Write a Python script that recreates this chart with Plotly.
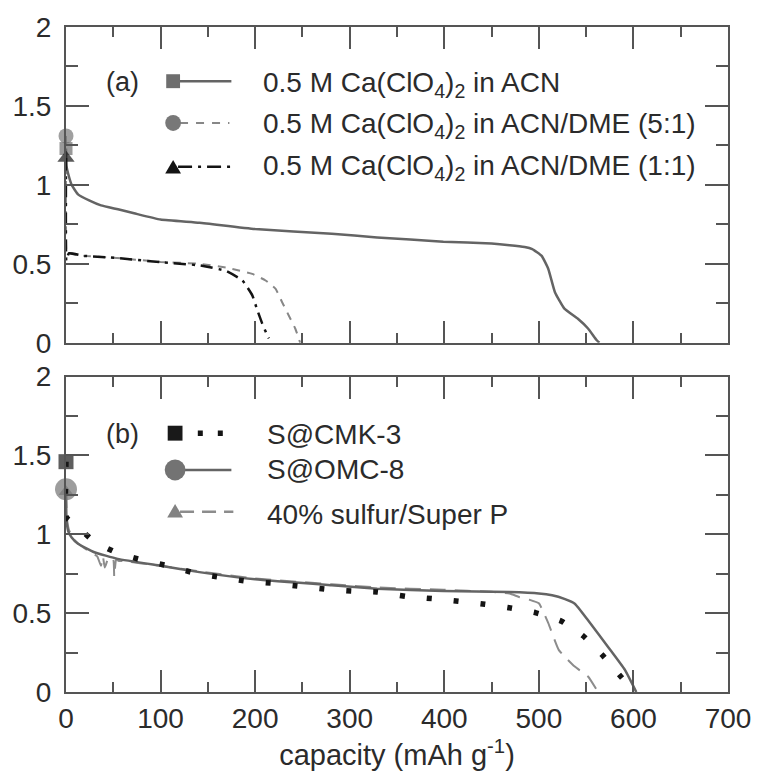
import plotly.graph_objects as go

# ---------------- data ----------------
# panel (a)
acn_x = [0, 0.5, 2.3, 6, 12.7, 25, 37, 55, 72, 100, 141, 200, 281, 329, 399, 450, 469, 485, 493, 503, 510, 517, 527, 541, 552, 561, 564]
acn_y = [1.23, 1.12, 1.07, 1.0, 0.94, 0.9, 0.87, 0.845, 0.82, 0.78, 0.76, 0.72, 0.69, 0.667, 0.64, 0.628, 0.618, 0.606, 0.593, 0.55, 0.467, 0.32, 0.216, 0.153, 0.09, 0.017, 0]

dme51_x = [0, 0.2, 1, 3, 19, 47, 100, 141, 169, 176, 197, 211, 221.5, 228.4, 235.4, 242.4, 247.6]
dme51_y = [1.31, 0.6, 0.56, 0.566, 0.55, 0.54, 0.512, 0.50, 0.476, 0.467, 0.436, 0.394, 0.342, 0.258, 0.174, 0.09, 0.0]

dme11_x = [0, 0.3, 1, 3, 19, 47, 100, 141, 169, 186.6, 197, 202.3, 207.5, 212.7, 214.5]
dme11_y = [1.17, 0.52, 0.53, 0.566, 0.55, 0.54, 0.51, 0.49, 0.455, 0.394, 0.30, 0.206, 0.121, 0.048, 0.027]

# panel (b)
omc_x = [0, 0.5, 2.3, 6, 12.7, 30, 54.6, 100, 141, 200, 281, 329, 399, 469, 500, 514, 527, 538, 552, 573, 591, 603]
omc_y = [1.285, 1.1, 1.02, 0.98, 0.94, 0.886, 0.844, 0.80, 0.76, 0.714, 0.676, 0.655, 0.64, 0.634, 0.625, 0.613, 0.59, 0.56, 0.455, 0.287, 0.14, 0]

cmk_x = [0, 0.5, 9, 30, 54.6, 82, 108, 136, 162, 190, 218, 247, 276, 303, 329, 359, 387, 415, 443, 470, 497, 524, 547, 567, 585, 599]
cmk_y = [1.46, 1.106, 1.065, 0.953, 0.88, 0.834, 0.80, 0.754, 0.728, 0.703, 0.69, 0.67, 0.651, 0.64, 0.634, 0.607, 0.592, 0.575, 0.556, 0.533, 0.502, 0.449, 0.355, 0.235, 0.109, 0.015]

superp_x = [0, 1, 3, 8, 15, 25, 33, 37, 39, 41, 45, 50, 51, 53, 56, 62, 80, 100, 141, 200, 281, 329, 399, 450, 469, 479, 490, 500, 510, 521, 538, 552, 561]
superp_y = [1.27, 1.1, 1.03, 0.97, 0.93, 0.89, 0.86, 0.8, 0.86, 0.79, 0.85, 0.84, 0.73, 0.84, 0.83, 0.83, 0.815, 0.80, 0.765, 0.72, 0.683, 0.663, 0.648, 0.635, 0.624, 0.602, 0.585, 0.562, 0.436, 0.267, 0.161, 0.098, 0.015]

x_ticks = [0, 100, 200, 300, 400, 500, 600, 700]
y_ticks = [0, 0.5, 1, 1.5, 2]
y_tick_text = ["0", "0.5", "1", "1.5", "2"]

labels_a = ["0.5 M Ca(ClO<sub>4</sub>)<sub>2</sub> in ACN",
            "0.5 M Ca(ClO<sub>4</sub>)<sub>2</sub> in ACN/DME (5:1)",
            "0.5 M Ca(ClO<sub>4</sub>)<sub>2</sub> in ACN/DME (1:1)"]
labels_b = ["S@CMK-3", "S@OMC-8", "40% sulfur/Super P"]

# ---------------- styling ----------------
FONT = "Liberation Sans, Arial, Helvetica, sans-serif"
AX = "#555555"
TXT = "#2b2b2b"
W, H = 763, 778
L_PX, R_PX, T_PX, B_PX = 64.5, 735.0, 23.5, 692.3


def first_marker(n, size):
    return [size] + [0] * (n - 1)


fig = go.Figure()


def add_series(x, y, xa, ya, color, dash, width, symbol, msize, mcolor, name):
    fig.add_trace(go.Scatter(
        x=x, y=y, xaxis=xa, yaxis=ya, mode="lines+markers", name=name,
        line=dict(color=color, dash=dash, width=width, shape="spline", smoothing=0.4),
        marker=dict(symbol=symbol, size=first_marker(len(x), msize), color=mcolor,
                    line=dict(width=0)),
        cliponaxis=False, showlegend=False, hoverinfo="skip"))


# panel (a) — draw so that markers stack like the reference
add_series(dme51_x, dme51_y, "x", "y", "rgb(135,135,135)", "8px,7px", 2, "circle", 15, "rgb(120,120,120)", labels_a[1])
add_series(acn_x, acn_y, "x", "y", "rgb(100,100,100)", "solid", 2.5, "square", 13, "rgb(110,110,110)", labels_a[0])
add_series(dme11_x, dme11_y, "x", "y", "rgb(20,20,20)", "12px,6px,3px,6px", 2.5, "triangle-up", 15, "rgb(20,20,20)", labels_a[2])

# panel (b)
add_series(superp_x, superp_y, "x2", "y2", "rgb(140,140,140)", "16px,9px", 2, "triangle-up", 13, "rgb(130,130,130)", labels_b[2])
add_series(omc_x, omc_y, "x2", "y2", "rgb(100,100,100)", "solid", 2.5, "circle", 22, "rgb(115,115,115)", labels_b[1])
add_series(cmk_x, cmk_y, "x2", "y2", "rgb(20,20,20)", "5px,22px", 5.5, "square", 15, "rgb(25,25,25)", labels_b[0])

# ---------------- axes ----------------
top_dom = [(B_PX - 341.0) / (B_PX - T_PX), 1.0]
bot_dom = [0.0, (B_PX - 375.0) / (B_PX - T_PX)]

xcommon = dict(range=[0, 700], tickvals=x_ticks, ticks="inside", ticklen=22, tickwidth=2,
               tickcolor=AX, showline=True, linecolor=AX, linewidth=2, mirror="ticks",
               showgrid=False, zeroline=False,
               minor=dict(dtick=50, tick0=0, ticks="inside", ticklen=10, tickwidth=2, tickcolor=AX, showgrid=False),
               tickfont=dict(family=FONT, size=28, color=TXT))
ycommon = dict(range=[0, 2], tickvals=y_ticks, ticktext=y_tick_text, ticks="inside", ticklen=23, tickwidth=2,
               tickcolor=AX, showline=True, linecolor=AX, linewidth=2, mirror="ticks",
               showgrid=False, zeroline=False,
               minor=dict(dtick=0.25, tick0=0, ticks="inside", ticklen=12, tickwidth=2, tickcolor=AX, showgrid=False),
               tickfont=dict(family=FONT, size=28, color=TXT), ticklabelstandoff=7)

fig.update_layout(
    width=W, height=H,
    margin=dict(l=L_PX, r=W - R_PX, t=T_PX, b=H - B_PX, pad=0),
    paper_bgcolor="white", plot_bgcolor="white",
    font=dict(family=FONT, color=TXT),
    showlegend=False,
    xaxis=dict(xcommon, anchor="y", showticklabels=False, domain=[0, 1]),
    yaxis=dict(ycommon, anchor="x", domain=top_dom),
    xaxis2=dict(xcommon, anchor="y2", domain=[0, 1],
                title=dict(text="capacity (mAh g<sup>-1</sup>)", font=dict(family=FONT, size=29, color=TXT), standoff=12)),
    yaxis2=dict(ycommon, anchor="x2", domain=bot_dom),
)


# ---------------- hand-drawn legends (paper coords from pixels) ----------------
def px(xp):
    return (xp - L_PX) / (R_PX - L_PX)


def py(yp):
    return (B_PX - yp) / (B_PX - T_PX)


shapes = []
annotations = []


def leg_line(x0, x1, y, color, dash, width):
    shapes.append(dict(type="line", xref="paper", yref="paper", x0=px(x0), x1=px(x1), y0=py(y), y1=py(y),
                       line=dict(color=color, dash=dash, width=width)))


def leg_square(cx, cy, s, color):
    shapes.append(dict(type="rect", xref="paper", yref="paper", x0=px(cx - s / 2), x1=px(cx + s / 2),
                       y0=py(cy + s / 2), y1=py(cy - s / 2), fillcolor=color, line=dict(width=0)))


def leg_circle(cx, cy, d, color):
    shapes.append(dict(type="circle", xref="paper", yref="paper", x0=px(cx - d / 2), x1=px(cx + d / 2),
                       y0=py(cy + d / 2), y1=py(cy - d / 2), fillcolor=color, line=dict(width=0)))


def leg_triangle(cx, cy, s, color):
    h = s * 0.85
    path = "M {} {} L {} {} L {} {} Z".format(px(cx - s / 2), py(cy + h / 2), px(cx + s / 2), py(cy + h / 2),
                                             px(cx), py(cy - h / 2))
    shapes.append(dict(type="path", xref="paper", yref="paper", path=path, fillcolor=color, line=dict(width=0)))


def leg_text(x, y, text, size=28):
    annotations.append(dict(xref="paper", yref="paper", x=px(x), y=py(y), text=text, showarrow=False,
                            xanchor="left", yanchor="middle", font=dict(family=FONT, size=size, color=TXT)))


# panel (a)
leg_text(103, 79, "(a)", 27)
leg_line(173, 232, 78, "rgb(100,100,100)", "solid", 2.5)
leg_square(173, 78, 14, "rgb(110,110,110)")
leg_line(180, 230, 120, "rgb(135,135,135)", "8px,8px", 2)
leg_circle(173, 120, 16, "rgb(120,120,120)")
leg_line(178, 232, 164, "rgb(20,20,20)", "14px,6px,3px,6px", 2.5)
leg_triangle(173, 164, 16, "rgb(20,20,20)")
for i, t in enumerate(labels_a):
    leg_text(262, [81, 123, 165][i], t)

# panel (b)
leg_text(103, 433, "(b)", 27)
leg_square(175, 432, 15, "rgb(25,25,25)")
leg_line(198, 226, 432, "rgb(20,20,20)", "5px,15px", 5.5)
leg_line(175, 232, 469, "rgb(100,100,100)", "solid", 2.5)
leg_circle(175, 469, 21, "rgb(115,115,115)")
leg_line(180, 234, 511, "rgb(140,140,140)", "14px,8px", 2.5)
leg_triangle(175, 510, 16, "rgb(130,130,130)")
for i, t in enumerate(labels_b):
    leg_text(266, [433, 469, 514][i], t)

fig.update_layout(shapes=shapes, annotations=annotations)

fig.write_html("out.html", config={"displayModeBar": False},
               post_script="document.body.style.margin='0';document.body.style.padding='0';")
